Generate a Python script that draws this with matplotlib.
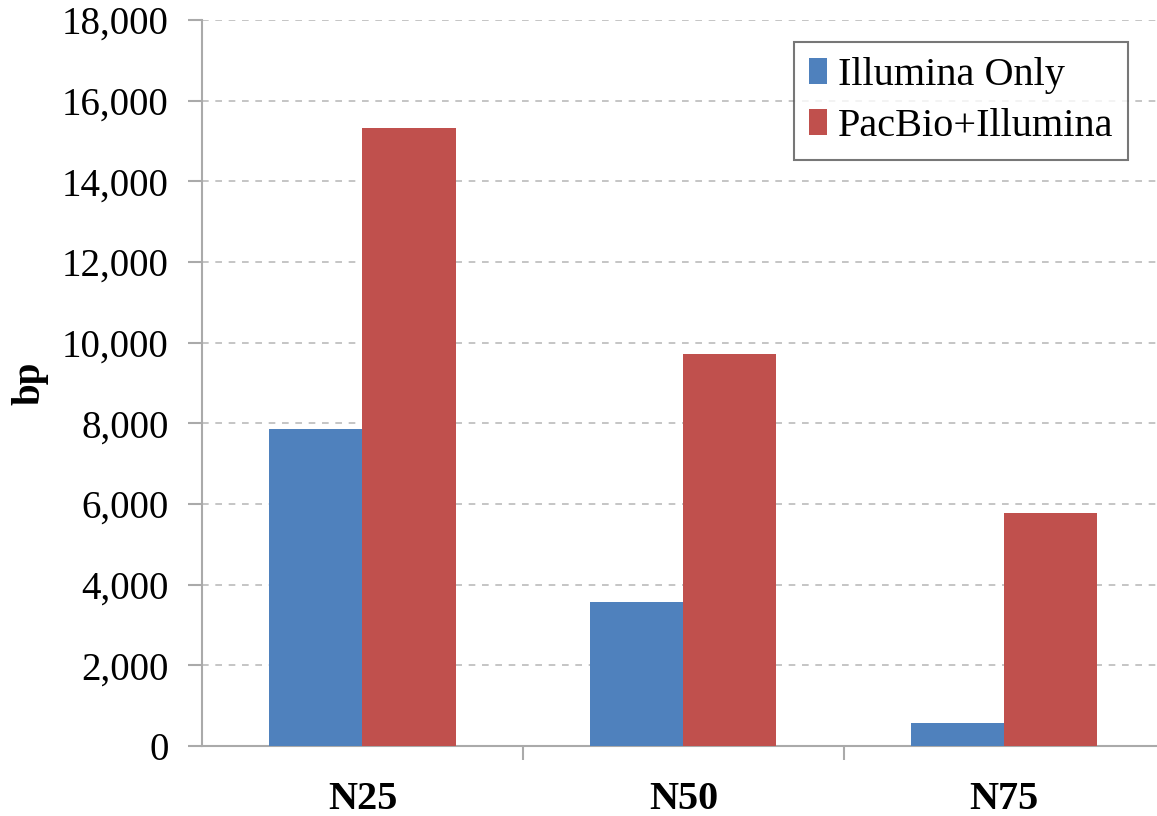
import matplotlib
matplotlib.use("Agg")
import matplotlib.pyplot as plt
from matplotlib.ticker import FuncFormatter, FixedLocator
import numpy as np

categories = ["N25", "N50", "N75"]
series_names = ["Illumina Only", "PacBio+Illumina"]
illumina_only = [7870, 3560, 570]
pacbio_illumina = [15320, 9730, 5770]
y_ticks = [0, 2000, 4000, 6000, 8000, 10000, 12000, 14000, 16000, 18000]

plt.rcParams['font.family'] = ['Liberation Serif', 'DejaVu Serif']

fig = plt.figure(figsize=(11.57, 8.16), dpi=100)
ax = fig.add_axes([0.1746, 0.0858, 0.832, 0.8897])

x = np.arange(len(categories))
w = 0.29
blue = "#4F81BD"
red = "#C0504D"
ax.bar(x - w / 2, illumina_only, width=w, color=blue, label=series_names[0], zorder=3)
ax.bar(x + w / 2, pacbio_illumina, width=w, color=red, label=series_names[1], zorder=3)

ax.set_xlim(-0.5, 2.5)
ax.set_ylim(0, 18000)
ax.set_yticks(y_ticks)
ax.yaxis.set_major_formatter(FuncFormatter(lambda v, p: f"{int(v):,}"))
ax.set_xticks(x)
ax.set_xticklabels(categories, fontsize=29, fontweight="bold")
ax.xaxis.set_minor_locator(FixedLocator([0.5, 1.5]))
ax.tick_params(axis="x", which="major", length=0, pad=25)
ax.tick_params(axis="x", which="minor", length=10, color="#AAAAAA", width=1.5)
ax.tick_params(axis="y", labelsize=28, length=10, color="#AAAAAA", width=1.5, pad=14)

ax.grid(axis="y", color="#BBBBBB", linestyle=(0, (4, 4)), linewidth=1.2, zorder=0)
for s in ["top", "right"]:
    ax.spines[s].set_visible(False)
for s in ["left", "bottom"]:
    ax.spines[s].set_color("#AAAAAA")
    ax.spines[s].set_linewidth(1.5)

ax.set_ylabel("bp", fontsize=28, fontweight="bold")
ax.yaxis.set_label_coords(-0.16, 0.5)

leg = ax.legend(loc="upper left", bbox_to_anchor=(0.615, 0.97), fontsize=29,
                frameon=True, fancybox=False, handlelength=0.45, handleheight=0.6,
                handletextpad=0.25, borderpad=0.38, labelspacing=0.35, borderaxespad=0)
leg.get_frame().set_edgecolor("#555555")
leg.get_frame().set_linewidth(1.5)

fig.savefig("out.png", dpi=100)
